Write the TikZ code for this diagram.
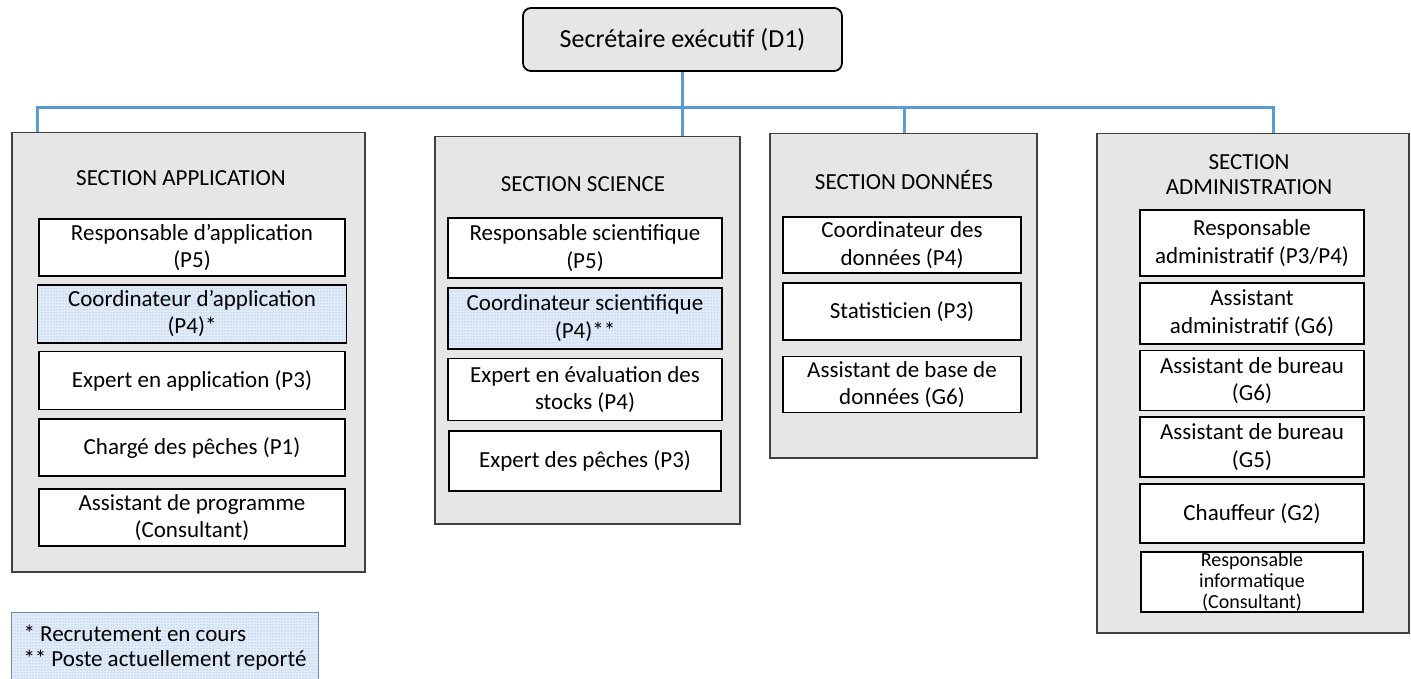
\documentclass[tikz,border=0pt]{standalone}
\usepackage{fontspec}
\setmainfont{Carlito}
\usetikzlibrary{positioning, patterns}
\definecolor{linkblue}{RGB}{91,155,213}
\definecolor{secgray}{RGB}{230,230,230}
\definecolor{secedge}{RGB}{64,64,64}
\definecolor{dotblue}{RGB}{120,165,220}
\definecolor{dotbg}{RGB}{226,236,249}
\definecolor{legedge}{RGB}{110,140,185}

\begin{document}
\begin{tikzpicture}[x=1pt, y=-1pt, node distance=9pt]
    % Node styles
    \tikzstyle{section} = [rectangle, draw=secedge, line width=1.5pt, fill=secgray, anchor=north west, inner sep=0pt]
    \tikzstyle{boxtext} = [rectangle, draw=black, line width=1.8pt, align=center, inner sep=0pt, font=\fontsize{23}{27.5}\selectfont]
    \tikzstyle{post} = [boxtext, fill=white]
    \tikzstyle{vacant} = [boxtext, preaction={fill=dotbg}, pattern=dots, pattern color=dotblue]
    \tikzstyle{title} = [align=center, inner sep=0pt, font=\fontsize{23}{25}\selectfont]
    \tikzstyle{link} = [draw=linkblue, line width=3pt]

    \useasboundingbox (0,0) rectangle (1411,679);

    % Head
    \node (head) [rectangle, draw=black, line width=1.8pt, rounded corners=8pt, fill=secgray, minimum width=319pt, minimum height=63pt, font=\fontsize{26}{30}\selectfont] at (682.5,39.5) {Secrétaire exécutif (D1)};

    % Sections
    \node (app) [section, minimum width=353pt, minimum height=439pt] at (11,132) {};
    \node (sci) [section, minimum width=305pt, minimum height=387pt] at (434,136) {};
    \node (don) [section, minimum width=267pt, minimum height=324pt] at (769,133) {};
    \node (adm) [section, minimum width=312pt, minimum height=499pt] at (1096,133) {};

    % Section application
    \node (apptitle) [title] at (181,178) {SECTION APPLICATION};
    \node (a1) [post, minimum width=306pt, minimum height=57pt, anchor=north] at (192,218) {Responsable d’application\\(P5)};
    \node (a2) [vacant, minimum width=309pt, minimum height=58pt, below=7pt of a1] {Coordinateur d’application\\(P4)*};
    \node (a3) [post, minimum width=306pt, minimum height=58pt, below=7pt of a2] {Expert en application (P3)};
    \node (a4) [post, minimum width=306pt, minimum height=57pt, below=8pt of a3] {Chargé des pêches (P1)};
    \node (a5) [post, minimum width=306pt, minimum height=57pt, below=11pt of a4] {Assistant de programme\\(Consultant)};

    % Section science
    \node (scititle) [title] at (583,184) {SECTION SCIENCE};
    \node (s1) [post, minimum width=274pt, minimum height=60pt, anchor=north] at (585,217) {Responsable scientifique\\(P5)};
    \node (s2) [vacant, minimum width=274pt, minimum height=61pt, below=8pt of s1] {Coordinateur scientifique\\(P4)**};
    \node (s3) [post, minimum width=274pt, minimum height=62pt, below=8pt of s2] {Expert en évaluation des\\stocks (P4)};
    \node (s4) [post, minimum width=272pt, minimum height=60pt, below=9pt of s3] {Expert des pêches (P3)};

    % Section donnees
    \node (dontitle) [title] at (904,180) {SECTION DONNÉES};
    \node (d1) [post, minimum width=238pt, minimum height=56pt, anchor=north] at (902,216) {Coordinateur des\\données (P4)};
    \node (d2) [post, minimum width=238pt, minimum height=57pt, below=8pt of d1] {Statisticien (P3)};
    \node (d3) [post, minimum width=238pt, minimum height=56pt, below=15pt of d2] {Assistant de base de\\données (G6)};

    % Section administration
    \node (admtitle) [title] at (1249,175) {SECTION\\ADMINISTRATION};
    \node (m1) [post, minimum width=224pt, minimum height=66pt, anchor=north] at (1252,209) {Responsable\\administratif (P3/P4)};
    \node (m2) [post, minimum width=224pt, minimum height=61pt, below=5pt of m1] {Assistant\\administratif (G6)};
    \node (m3) [post, minimum width=224pt, minimum height=60pt, below=5pt of m2] {Assistant de bureau\\(G6)};
    \node (m4) [post, minimum width=224pt, minimum height=60pt, below=5pt of m3] {Assistant de bureau\\(G5)};
    \node (m5) [post, minimum width=224pt, minimum height=59pt, below=5pt of m4] {Chauffeur (G2)};
    \node (m6) [post, minimum width=222pt, minimum height=60pt, below=7pt of m5, font=\fontsize{20}{21}\selectfont] {Responsable\\informatique\\(Consultant)};

    % Legend
    \node (legend) [rectangle, draw=legedge, line width=1pt, preaction={fill=dotbg}, pattern=dots, pattern color=dotblue, anchor=north west, minimum width=307pt, minimum height=70pt, inner xsep=12pt, text width=283pt, align=flush left, font=\fontsize{23}{24.5}\selectfont] at (11,612) {* Recrutement en cours\\{**} Poste actuellement reporté};

    % Links
    \coordinate (busL) at (37,108);
    \coordinate (busR) at (1273,108);
    \draw[link] (busL |- app.north) -- (busL) -- (busR) -- (busR |- adm.north);
    \draw[link] (head.south) -- (head.south |- sci.north);
    \draw[link] (don.north -| 904,0) -- (busL -| 904,0);
\end{tikzpicture}
\end{document}
